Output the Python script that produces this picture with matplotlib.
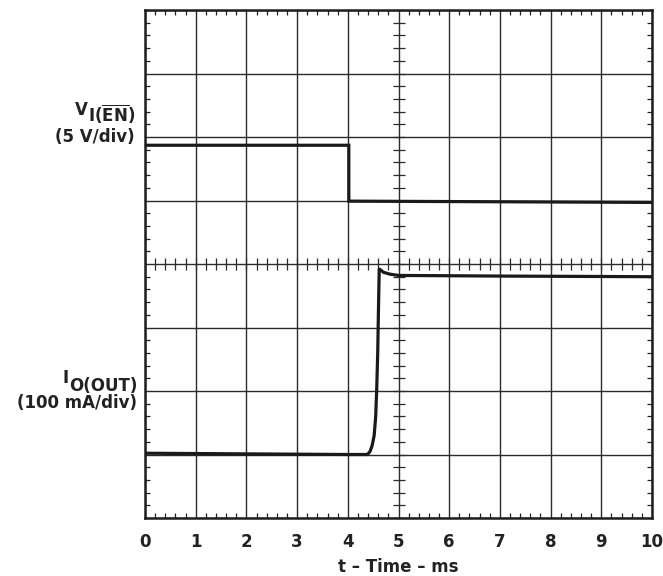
import numpy as np
import matplotlib
matplotlib.use('Agg')
import matplotlib.pyplot as plt
from matplotlib.ticker import MultipleLocator

plt.rcParams['font.family'] = ['DejaVu Sans']
plt.rcParams['font.weight'] = 'bold'
plt.rcParams['mathtext.fontset'] = 'custom'
plt.rcParams['mathtext.rm'] = 'DejaVu Sans:bold'
plt.rcParams['mathtext.bf'] = 'DejaVu Sans:bold'
plt.rcParams['mathtext.it'] = 'DejaVu Sans:bold'
plt.rcParams['mathtext.sf'] = 'DejaVu Sans:bold'

# ---- data (divisions on the scope screen) ----
t_ven = [0.0, 4.02, 4.02, 10.0]
v_ven = [5.87, 5.87, 4.99, 4.97]

t_iout = [0.0, 2.0, 4.0, 4.37, 4.40, 4.44, 4.48, 4.52, 4.55, 4.57, 4.59, 4.60,
          4.61, 4.62, 4.66, 4.70, 4.83, 5.0, 7.0, 10.0]
i_iout = [1.02, 1.01, 1.00, 1.00, 1.01, 1.05, 1.14, 1.30, 1.60, 2.02, 2.60, 3.07,
          3.50, 3.92, 3.90, 3.87, 3.84, 3.82, 3.81, 3.80]

x_ticks = list(range(0, 11))
x_ticklabels = [str(v) for v in x_ticks]
y_grid = list(range(0, 9))

W, H = 663, 576
fig = plt.figure(figsize=(W / 100, H / 100), dpi=100)
ax = fig.add_axes([145 / W, 1 - 518 / H, 507 / W, 508 / H])

ax.set_xlim(0, 10)
ax.set_ylim(0, 8)

ax.set_xticks(x_ticks)
ax.set_xticklabels(x_ticklabels)
ax.set_yticks(y_grid)
ax.set_yticklabels([])
ax.xaxis.set_minor_locator(MultipleLocator(0.2))
ax.yaxis.set_minor_locator(MultipleLocator(0.2))
ax.tick_params(which='minor', direction='in', length=3.8, width=0.9, color='#222222',
               top=True, bottom=True, left=True, right=True)
ax.tick_params(which='major', length=0, labelsize=12, pad=11, colors='#222222')
ax.tick_params(axis='y', which='major', labelleft=False)
for lab in ax.get_xticklabels():
    lab.set_fontweight('bold')

ax.grid(True, which='major', color='#2a2a2a', lw=1.0)
for s in ax.spines.values():
    s.set_linewidth(1.8)
    s.set_color('#1e1e1e')

# centre-line graticule ticks
cx = np.arange(0, 10.001, 0.2)
cy = np.arange(0, 8.001, 0.2)
ax.plot(cx, np.full_like(cx, 4.0), ls='none', marker='|', ms=8.6, mew=0.9, color='#2a2a2a', zorder=1.6)
ax.plot(np.full_like(cy, 5.0), cy, ls='none', marker='_', ms=8.6, mew=0.9, color='#2a2a2a', zorder=1.6)

# traces
ax.plot(t_ven, v_ven, color='#1a1a1a', lw=2.3, solid_joinstyle='miter', zorder=3)
ax.plot(t_iout, i_iout, color='#1a1a1a', lw=2.3, solid_joinstyle='round', zorder=3)

ax.set_xlabel('t – Time – ms', fontsize=12, fontweight='bold', labelpad=5, color='#222222')

# left-side channel labels
fig.canvas.draw()
r = fig.canvas.get_renderer()
fs = 12
t1 = fig.text(135 / W, 1 - 122.5 / H, r'I($\overline{\mathrm{EN}}$)', ha='right', va='baseline',
              fontsize=fs, fontweight='bold', color='#222222')
bb = t1.get_window_extent(renderer=r)
fig.text(bb.x0 / W, 1 - 115 / H, 'V', ha='right', va='baseline', fontsize=fs,
         fontweight='bold', color='#222222')
fig.text(135 / W, 1 - 142.5 / H, '(5 V/div)', ha='right', va='baseline', fontsize=fs,
         fontweight='bold', color='#222222')

t2 = fig.text(137 / W, 1 - 391 / H, 'O(OUT)', ha='right', va='baseline', fontsize=fs,
              fontweight='bold', color='#222222')
bb2 = t2.get_window_extent(renderer=r)
fig.text(bb2.x0 / W, 1 - 383 / H, 'I', ha='right', va='baseline', fontsize=fs,
         fontweight='bold', color='#222222')
fig.text(137 / W, 1 - 408.5 / H, '(100 mA/div)', ha='right', va='baseline', fontsize=fs,
         fontweight='bold', color='#222222')

fig.savefig('out.png', dpi=100)
